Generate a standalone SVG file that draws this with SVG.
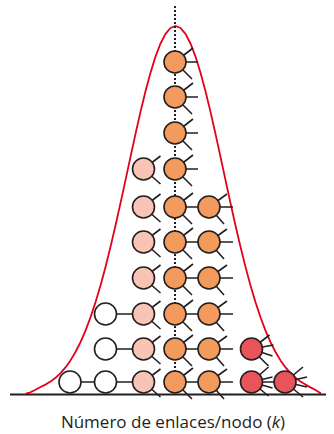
<svg xmlns="http://www.w3.org/2000/svg" xmlns:xlink="http://www.w3.org/1999/xlink" width="334" height="434" viewBox="0 0 334 434">
<style>
.sp{stroke:#231f20;stroke-width:1.6;fill:none;stroke-linecap:butt}
.nd{stroke:#231f20;stroke-width:1.6}
.or{fill:#f29b5c}
.pk{fill:#f7c4b6}
.wh{fill:#ffffff}
.rd{fill:#e8545a}
.lk{stroke:#231f20;stroke-width:1.6;fill:none}
.dot{stroke:#231f20;stroke-width:2;stroke-dasharray:2 2;fill:none}
.curve{stroke:#e2001a;stroke-width:1.8;fill:none;stroke-linejoin:round}
.base{stroke:#231f20;stroke-width:2;fill:none}
.lbl{font-family:"Open Sans","Liberation Sans",sans-serif;font-size:17px;fill:#231f20}
</style>
<defs>
<g id="tO1"><path class="sp" d="M0 0L18 -14M0 0L23 0M0 0L17 17"/><circle class="nd or" r="11"/></g>
<g id="tO1c"><path class="sp" d="M0 0L18 -14M0 0L17 17"/><circle class="nd or" r="11"/></g>
<g id="tO2"><path class="sp" d="M0 0L18 -13M0 0L24 0M0 0L15 17"/><circle class="nd or" r="11"/></g>
<g id="tP"><path class="sp" d="M0 0L17 -13M0 0L17 15"/><circle class="nd pk" r="11"/></g>
<g id="tW"><circle class="nd wh" r="11"/></g>
<g id="tRA"><path class="sp" d="M0 0L18 -14M0 0L22 -4M0 0L21 7M0 0L17 17"/><circle class="nd rd" r="11"/></g>
<g id="tRB"><path class="sp" d="M0 0L17 -15M0 0L21 -5M0 0L21 6M0 0L17 14"/><circle class="nd rd" r="11"/></g>
<g id="tRC"><path class="sp" d="M0 0L18 -15M0 0L22 -5M0 0L22 5M0 0L18 15"/><circle class="nd rd" r="11"/></g>
</defs>

<polyline id="curve" class="curve" points="26,393.5 30.5,392.3 35.5,389.8 40.5,387.0 45.5,384.6 50.5,381.6 55.5,377.8 60.5,373.1 65.5,367.4 70.5,360.4 75.5,352.0 80.5,342.1 85.5,330.6 90.5,317.3 95.5,302.2 100.5,285.4 105.5,266.9 110.5,246.9 115.5,225.5 120.5,203.1 125.5,180.1 130.5,156.9 135.5,133.9 140.5,111.9 145.5,91.3 150.5,72.7 155.5,56.6 160.5,43.5 165.5,33.9 170.5,28.0 175.5,26 180.5,28.0 185.5,33.9 190.5,43.5 195.5,56.6 200.5,72.7 205.5,91.3 210.5,111.9 215.5,133.9 220.5,156.9 225.5,180.1 230.5,203.1 235.5,225.5 240.5,246.9 245.5,266.9 250.5,285.4 255.5,302.2 260.5,317.3 265.5,330.6 270.5,342.1 275.5,352.0 280.5,360.4 285.5,367.4 290.5,373.1 295.5,377.8 300.5,381.6 305.5,384.6 310.5,387.4 315.5,390.0 321,393.5"/>

<g id="connectors">
<line class="dot" x1="175" y1="6" x2="175" y2="394"/>
<path class="lk" d="M186 207H198M186 242H198M186 278H198M186 314H198M186 349H198M186 382H198M116 314H132.5M116 349H132.5M116 382H132.5M81 382H94.5M262.5 382H274"/>
</g>

<g id="c1r1" transform="translate(175,62)"><use xlink:href="#tO1"/></g>
<g id="c1r2" transform="translate(175,97)"><use xlink:href="#tO1"/></g>
<g id="c1r3" transform="translate(175,133)"><use xlink:href="#tO1"/></g>
<g id="c1r4" transform="translate(175,169)"><use xlink:href="#tO1"/></g>
<g id="c1r5" transform="translate(175,207)"><use xlink:href="#tO1c"/></g>
<g id="c1r6" transform="translate(175,242)"><use xlink:href="#tO1c"/></g>
<g id="c1r7" transform="translate(175,278)"><use xlink:href="#tO1c"/></g>
<g id="c1r8" transform="translate(175,314)"><use xlink:href="#tO1c"/></g>
<g id="c1r9" transform="translate(175,349)"><use xlink:href="#tO1c"/></g>
<g id="c1r10" transform="translate(175,382)"><use xlink:href="#tO1c"/></g>

<g id="p4" transform="translate(143.5,169)"><use xlink:href="#tP"/></g>
<g id="p5" transform="translate(143.5,207)"><use xlink:href="#tP"/></g>
<g id="p6" transform="translate(143.5,242)"><use xlink:href="#tP"/></g>
<g id="p7" transform="translate(143.5,278)"><use xlink:href="#tP"/></g>
<g id="p8" transform="translate(143.5,314)"><use xlink:href="#tP"/></g>
<g id="p9" transform="translate(143.5,349)"><use xlink:href="#tP"/></g>
<g id="p10" transform="translate(143.5,382)"><use xlink:href="#tP"/></g>

<g id="c2r5" transform="translate(209,207)"><use xlink:href="#tO2"/></g>
<g id="c2r6" transform="translate(209,242)"><use xlink:href="#tO2"/></g>
<g id="c2r7" transform="translate(209,278)"><use xlink:href="#tO2"/></g>
<g id="c2r8" transform="translate(209,314)"><use xlink:href="#tO2"/></g>
<g id="c2r9" transform="translate(209,349)"><use xlink:href="#tO2"/></g>
<g id="c2r10" transform="translate(209,382)"><use xlink:href="#tO2"/></g>

<g id="w8" transform="translate(105.5,314)"><use xlink:href="#tW"/></g>
<g id="w9" transform="translate(105.5,349)"><use xlink:href="#tW"/></g>
<g id="w10" transform="translate(105.5,382)"><use xlink:href="#tW"/></g>
<g id="w0" transform="translate(70,382)"><use xlink:href="#tW"/></g>

<g id="r9" transform="translate(251.5,349)"><use xlink:href="#tRA"/></g>
<g id="r10" transform="translate(251.5,382)"><use xlink:href="#tRB"/></g>
<g id="rr10" transform="translate(285,382)"><use xlink:href="#tRC"/></g>

<line id="baseline" class="base" x1="10" y1="394.5" x2="326" y2="394.5"/>

<text class="lbl" x="173" y="428" text-anchor="middle">Número de enlaces/nodo (<tspan font-style="italic">k</tspan>)</text>
</svg>
